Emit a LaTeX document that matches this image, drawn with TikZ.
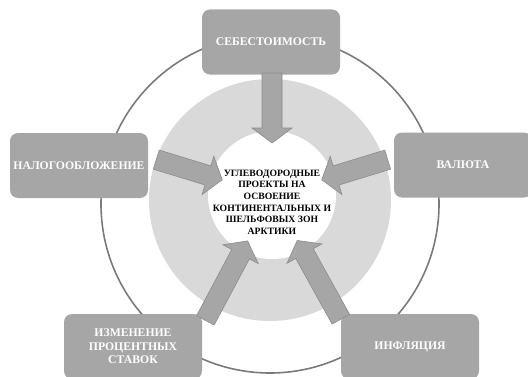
\documentclass[tikz,border=0pt]{standalone}
\usepackage{fontspec}
\setmainfont{Liberation Serif}
\usepackage{xcolor}
\usepackage{tikz}
\usetikzlibrary{calc}

\definecolor{boxgray}{HTML}{A6A6A6}
\definecolor{ringgray}{HTML}{D9D9D9}
\definecolor{linegray}{HTML}{7A7A7A}
\definecolor{arrline}{HTML}{8C8C8C}

%% block arrow from #1 to #2 (shaft 20pt, head 40pt wide, 15pt long)
\newcommand{\inarrow}[2]{%
  \coordinate (hb) at ($(#2)!15pt!(#1)$);
  \draw[arrbody] ($(#1)!10pt!90:(#2)$) -- ($(hb)!10pt!90:(#2)$)
      -- ($(hb)!20pt!90:(#2)$) -- (#2) -- ($(hb)!20pt!-90:(#2)$)
      -- ($(hb)!10pt!-90:(#2)$) -- ($(#1)!10pt!-90:(#2)$) -- cycle;
}

\begin{document}
\begin{tikzpicture}[
  x=1pt, y=1pt,
  factor/.style={rectangle, rounded corners=8pt, fill=boxgray, text=white,
                 minimum width=138pt, minimum height=65pt, align=center,
                 inner sep=2pt, font=\bfseries\fontsize{11.7}{13.5}\selectfont},
  ring/.style={circle, fill=ringgray, minimum size=242pt, inner sep=0pt},
  hub/.style={circle, fill=white, minimum size=128pt, inner sep=0pt},
  hubtext/.style={align=center, inner sep=0pt,
                  font=\bfseries\fontsize{9.7}{11.6}\selectfont},
  orbit/.style={draw=linegray, line width=1.6pt},
  arrbody/.style={fill=boxgray, draw=arrline, line width=0.6pt}
]
\useasboundingbox (0,0) rectangle (528,376);
\clip (0,0) rectangle (528,376);
%% outer orbit and rings
\draw[orbit] (270,172) circle (169pt);
\node[ring] (ring) at (270,176) {};
\node[hub]  (hub)  at (272,181) {};
\node[hubtext] (t_hub) at ($(hub)+(0,-7)$) {УГЛЕВОДОРОДНЫЕ\\ПРОЕКТЫ НА\\ОСВОЕНИЕ\\
                                  КОНТИНЕНТАЛЬНЫХ И\\ШЕЛЬФОВЫХ ЗОН\\АРКТИКИ};
%% factor boxes
\node[factor] (f_cost)  at (271,334)  {СЕБЕСТОИМОСТЬ};
\node[factor] (f_tax)   at (79,210.5) {НАЛОГООБЛОЖЕНИЕ};
\node[factor] (f_curr)  at (463,211)  {ВАЛЮТА};
\node[factor] (f_rate)  at (133,29.5) {ИЗМЕНЕНИЕ\\ПРОЦЕНТНЫХ\\СТАВОК};
\node[factor] (f_infl)  at (410,29.5) {ИНФЛЯЦИЯ};
%% arrow ends, polar round the hub
\coordinate (a_cost_s) at ($(hub)+(90:122pt)$);
\coordinate (a_cost_e) at ($(hub)+(90:52pt)$);
\coordinate (a_tax_s)  at ($(hub)+(163:121pt)$);
\coordinate (a_tax_e)  at ($(hub)+(163:52pt)$);
\coordinate (a_curr_s) at ($(hub)+(17:121pt)$);
\coordinate (a_curr_e) at ($(hub)+(17:52pt)$);
\coordinate (a_rate_s) at ($(hub)+(242:142pt)$);
\coordinate (a_rate_e) at ($(hub)+(242:52pt)$);
\coordinate (a_infl_s) at ($(hub)+(299:142pt)$);
\coordinate (a_infl_e) at ($(hub)+(299:52pt)$);
%% arrows
\inarrow{a_cost_s}{a_cost_e}
\inarrow{a_tax_s}{a_tax_e}
\inarrow{a_curr_s}{a_curr_e}
\inarrow{a_rate_s}{a_rate_e}
\inarrow{a_infl_s}{a_infl_e}
\end{tikzpicture}
\end{document}
